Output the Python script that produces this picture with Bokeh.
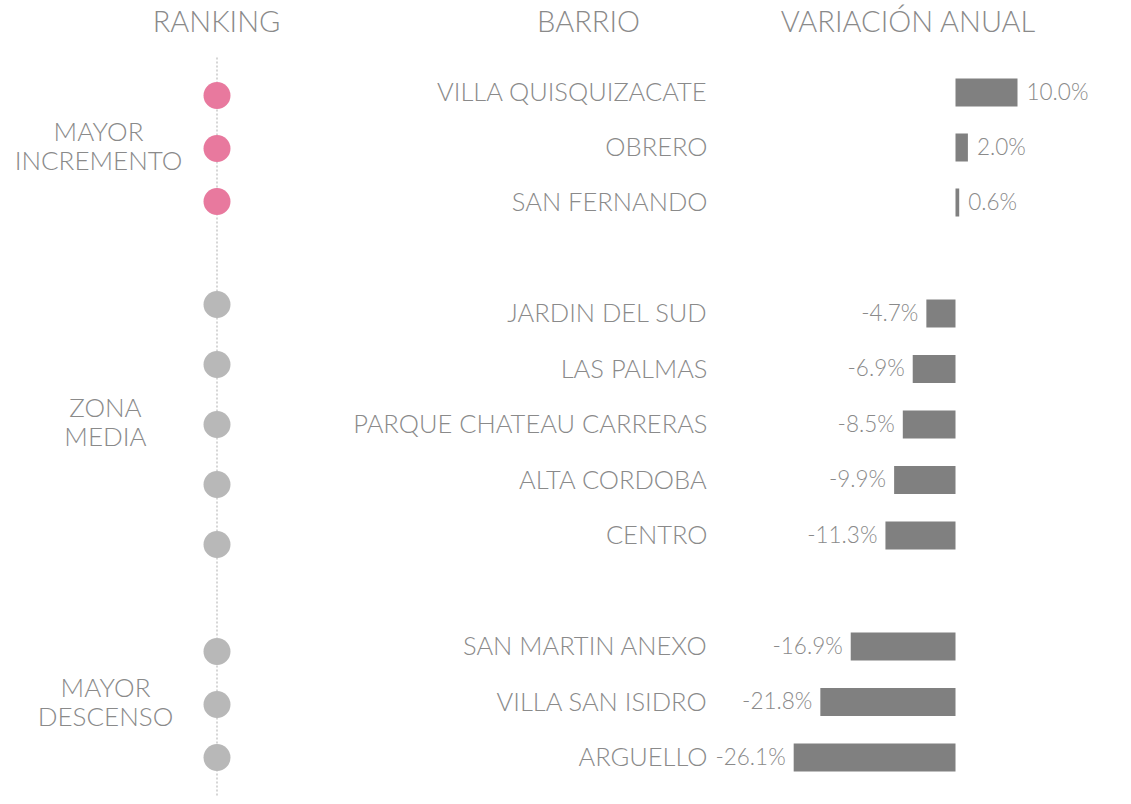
from bokeh.plotting import figure
from bokeh.models import Range1d, ColumnDataSource
from bokeh.core.properties import value
from bokeh.embed import file_html
from bokeh.resources import INLINE

# ---- data ----
barrios = ["VILLA QUISQUIZACATE", "OBRERO", "SAN FERNANDO",
           "JARDIN DEL SUD", "LAS PALMAS", "PARQUE CHATEAU CARRERAS",
           "ALTA CORDOBA", "CENTRO",
           "SAN MARTIN ANEXO", "VILLA SAN ISIDRO", "ARGUELLO"]
variacion = [10.0, 2.0, 0.6, -4.7, -6.9, -8.5, -9.9, -11.3, -16.9, -21.8, -26.1]
grupo = [0, 0, 0, 1, 1, 1, 1, 1, 2, 2, 2]
grupos = [["MAYOR", "INCREMENTO"], ["ZONA", "MEDIA"], ["MAYOR", "DESCENSO"]]
headers = ["RANKING", "BARRIO", "VARIACIÓN ANUAL"]

# ---- layout (canvas pixel geometry) ----
W, H = 1115, 796
PX_PER_PCT = 6.2
ZERO_PX = 955.0


def xp(px):  # canvas px -> percent units
    return (px - ZERO_PX) / PX_PER_PCT


FONT = value("Lato Light")
TXT = "#8a8a8a"
BAR = "#808080"
PINK = "#e8799e"
GREY_DOT = "#b8b8b8"

bar_center = [147.0, 424.0, 701.5]
bar_step = [55.0, 55.5, 55.5]
dot_center = [148.0, 424.0, 704.0]
dot_step = [53.0, 60.0, 53.0]

row_y, dot_y = [], []
for g in range(3):
    idx = [i for i, gg in enumerate(grupo) if gg == g]
    n = len(idx)
    for k, i in enumerate(idx):
        o = k - (n - 1) / 2
        row_y.append(bar_center[g] + o * bar_step[g])
        dot_y.append(dot_center[g] + o * dot_step[g])
text_y = [y - 1.5 for y in row_y]

p = figure(width=W, height=H, output_backend="svg", toolbar_location=None,
           x_range=Range1d(xp(0), xp(W)), y_range=Range1d(H, 0),
           min_border=0, outline_line_color=None, background_fill_color="white",
           border_fill_color="white")
p.axis.visible = False
p.grid.visible = False

# headers
p.text(x=[xp(216), xp(588), xp(908)], y=[19.5, 19.5, 19.5], text=headers,
       text_font=FONT, text_font_size="29px", text_color=TXT,
       text_align="center", text_baseline="middle")

# dotted ranking line
p.segment(x0=[xp(216.5)], y0=[57], x1=[xp(216.5)], y1=[H],
          line_color="#c8c8c8", line_width=1.5, line_dash="2 2")

# dots
dot_colors = [PINK if g == 0 else GREY_DOT for g in grupo]
src_d = ColumnDataSource(dict(x=[xp(216.5)] * len(dot_y), y=dot_y, c=dot_colors))
p.scatter(x="x", y="y", source=src_d, size=27, fill_color="c", line_color=None)

# group labels
gx = [xp(98), xp(105), xp(105)]
gl_x, gl_y, gl_t = [], [], []
for g in range(3):
    c = dot_center[g] - 3.5
    gl_x += [gx[g], gx[g]]
    gl_y += [c - 14.5, c + 14.5]
    gl_t += grupos[g]
p.text(x=gl_x, y=gl_y, text=gl_t, text_font=FONT, text_font_size="26px",
       text_color=TXT, text_align="center", text_baseline="middle")

# barrio names
p.text(x=[xp(707)] * len(barrios), y=text_y, text=barrios, text_font=FONT,
       text_font_size="25.5px", text_color=TXT, text_align="right",
       text_baseline="middle")

# bars
src_b = ColumnDataSource(dict(y=row_y, left=[min(v, 0) for v in variacion],
                              right=[max(v, 0) for v in variacion]))
p.hbar(y="y", left="left", right="right", height=28, source=src_b,
       fill_color=BAR, line_color=None)

# value labels
lab = [f"{v:.1f}%" for v in variacion]
pos = [i for i, v in enumerate(variacion) if v >= 0]
neg = [i for i, v in enumerate(variacion) if v < 0]
p.text(x=[variacion[i] + 9 / PX_PER_PCT for i in pos], y=[text_y[i] for i in pos],
       text=[lab[i] for i in pos], text_font=FONT, text_font_size="22.5px",
       text_color=TXT, text_align="left", text_baseline="middle")
p.text(x=[variacion[i] - 8 / PX_PER_PCT for i in neg], y=[text_y[i] for i in neg],
       text=[lab[i] for i in neg], text_font=FONT, text_font_size="22.5px",
       text_color=TXT, text_align="right", text_baseline="middle")

open("out.html", "w").write(file_html(p, INLINE))
